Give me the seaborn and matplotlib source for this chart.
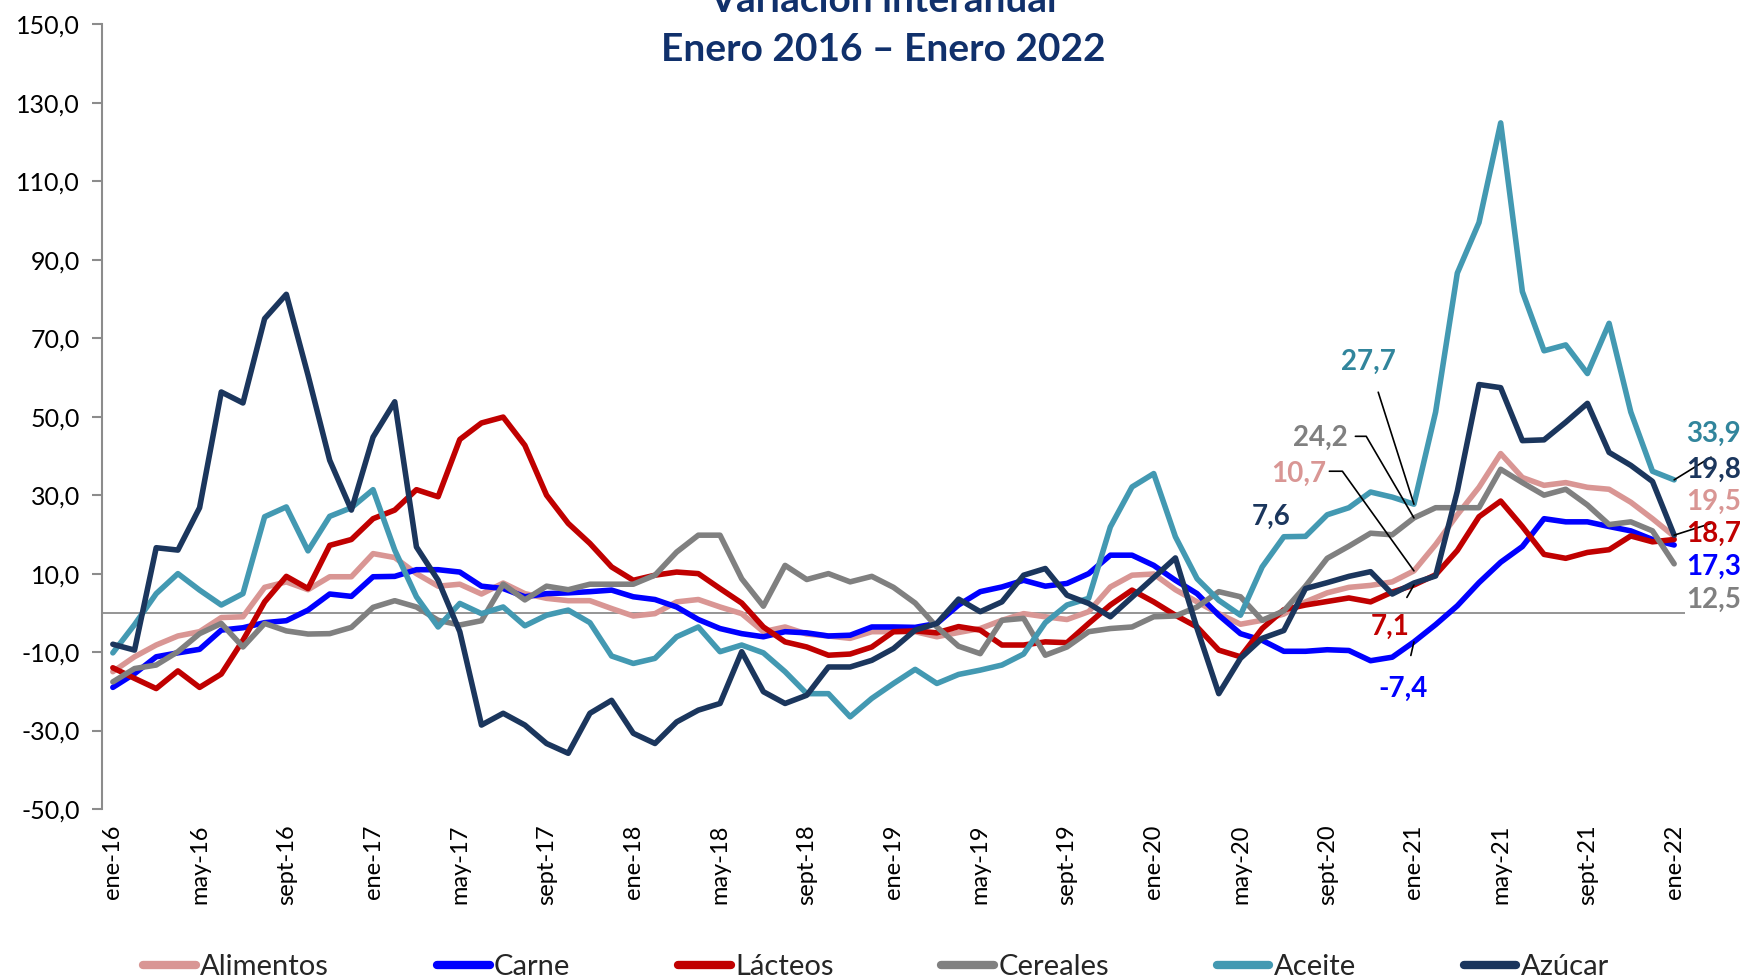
import matplotlib
matplotlib.use('Agg')
import matplotlib.pyplot as plt
import pandas as pd
import seaborn as sns
from matplotlib.ticker import FuncFormatter

# Meses ene-16 .. ene-22 (73 puntos)
abrev = ['ene', 'feb', 'mar', 'abr', 'may', 'jun', 'jul', 'ago', 'sept', 'oct', 'nov', 'dic']
meses = [f'{abrev[i % 12]}-{16 + i // 12}' for i in range(73)]

alimentos = [-15.0, -11.2, -8.2, -5.9, -4.8, -1.2, -1.0, 6.5, 7.9, 5.9,
             9.2, 9.2, 15.1, 14.1, 10.0, 6.8, 7.3, 4.8, 7.6, 4.9,
             3.7, 3.1, 3.1, 1.1, -0.8, -0.2, 2.8, 3.4, 1.5, -0.2,
             -4.8, -3.6, -5.4, -5.9, -6.5, -4.8, -4.8, -4.8, -6.1, -5.0,
             -4.0, -1.9, -0.2, -1.0, -1.7, 0.3, 6.6, 9.6, 9.9, 5.9,
             2.8, -0.2, -2.9, -1.9, -0.3, 2.8, 5.1, 6.5, 7.0, 7.9,
             10.7, 17.4, 25.0, 32.0, 40.6, 34.5, 32.5, 33.2, 32.0, 31.5,
             28.2, 24.0, 19.5]
carne = [-19.0, -15.5, -11.2, -10.2, -9.3, -4.4, -3.8, -2.5, -2.0, 0.7,
         4.8, 4.2, 9.2, 9.3, 11.0, 11.0, 10.4, 6.8, 6.2, 4.1,
         4.9, 5.1, 5.4, 5.8, 4.1, 3.4, 1.5, -1.7, -4.0, -5.3,
         -6.1, -4.8, -5.1, -5.9, -5.7, -3.6, -3.6, -3.7, -2.7, 2.0,
         5.4, 6.6, 8.3, 6.8, 7.5, 10.0, 14.7, 14.7, 12.1, 8.3,
         4.9, -0.6, -5.3, -7.0, -9.8, -9.8, -9.4, -9.6, -12.2, -11.3,
         -7.4, -3.0, 1.8, 7.7, 12.9, 16.9, 24.0, 23.2, 23.2, 22.0,
         20.9, 18.7, 17.3]
lacteos = [-14.0, -16.7, -19.3, -14.8, -19.0, -15.6, -7.0, 2.8, 9.3, 6.2,
           17.2, 18.7, 24.0, 26.2, 31.4, 29.6, 44.2, 48.4, 49.9, 42.7,
           30.0, 22.8, 17.7, 11.7, 8.3, 9.6, 10.4, 10.0, 6.2, 2.5,
           -3.6, -7.4, -8.7, -10.8, -10.5, -8.7, -4.8, -4.6, -5.1, -3.5,
           -4.4, -8.2, -8.2, -7.4, -7.6, -2.7, 2.0, 5.8, 2.8, -0.6,
           -3.6, -9.5, -11.2, -4.0, 0.8, 2.0, 2.9, 3.8, 2.8, 5.3,
           7.1, 9.7, 15.9, 24.5, 28.5, 22.0, 14.9, 13.9, 15.4, 16.1,
           19.6, 18.1, 18.7]
cereales = [-17.6, -14.2, -13.3, -9.9, -5.3, -2.7, -8.7, -2.7, -4.6, -5.4,
            -5.3, -3.7, 1.4, 3.1, 1.5, -1.9, -3.1, -2.0, 7.3, 3.3,
            6.8, 5.9, 7.3, 7.3, 7.3, 9.6, 15.5, 19.8, 19.8, 8.7,
            1.7, 12.1, 8.5, 10.0, 7.9, 9.3, 6.5, 2.5, -3.6, -8.5,
            -10.4, -1.9, -1.4, -10.8, -8.7, -4.8, -4.0, -3.6, -1.0, -0.8,
            1.5, 5.4, 4.1, -1.9, 0.5, 6.8, 13.9, 17.0, 20.3, 19.9,
            24.2, 26.8, 26.8, 26.8, 36.6, 33.2, 30.0, 31.5, 27.5, 22.5,
            23.2, 20.9, 12.5]
aceite = [-10.2, -3.0, 4.9, 10.0, 5.8, 2.0, 4.9, 24.5, 27.0, 15.8,
          24.6, 26.8, 31.4, 16.0, 4.1, -3.6, 2.4, -0.2, 1.5, -3.3,
          -0.6, 0.7, -2.5, -11.0, -12.9, -11.6, -6.1, -3.6, -9.9, -8.2,
          -10.2, -15.0, -20.6, -20.6, -26.5, -21.8, -18.0, -14.4, -18.0, -15.7,
          -14.6, -13.3, -10.5, -2.5, 2.0, 3.7, 21.9, 32.1, 35.5, 19.4,
          8.7, 3.2, -0.6, 11.7, 19.4, 19.5, 25.0, 26.8, 30.8, 29.5,
          27.7, 51.2, 86.6, 99.5, 124.9, 81.9, 66.8, 68.3, 61.0, 73.8,
          51.2, 36.1, 33.9]
azucar = [-8.0, -9.5, 16.6, 16.0, 26.8, 56.3, 53.5, 75.0, 81.2, 60.6,
          38.9, 26.2, 44.8, 53.8, 16.8, 8.3, -4.8, -28.6, -25.6, -28.6,
          -33.3, -35.8, -25.6, -22.3, -30.7, -33.3, -27.8, -24.8, -23.1, -9.9,
          -20.1, -23.1, -21.0, -13.8, -13.8, -12.1, -9.1, -4.4, -2.7, 3.5,
          0.3, 2.8, 9.6, 11.3, 4.5, 2.4, -1.0, 4.0, 9.0, 14.0,
          -4.0, -20.6, -11.6, -6.5, -4.5, 6.2, 7.7, 9.3, 10.5, 4.8,
          7.6, 9.4, 31.0, 58.2, 57.4, 43.9, 44.1, 48.6, 53.4, 40.9,
          37.6, 33.5, 19.8]

series = ['Alimentos', 'Carne', 'Lácteos', 'Cereales', 'Aceite', 'Azúcar']
colores = ['#D99694', '#0000FF', '#C00000', '#808080', '#4399B2', '#1B365D']
etiquetas_color = ['#D99694', '#0000FF', '#C00000', '#808080', '#31859C', '#1B365D']

df = pd.DataFrame({'Alimentos': alimentos, 'Carne': carne, 'Lácteos': lacteos,
                   'Cereales': cereales, 'Aceite': aceite, 'Azúcar': azucar})
df['idx'] = range(len(meses))
largo = df.melt(id_vars='idx', var_name='serie', value_name='valor')

sns.set_theme(style='white')
plt.rcParams['font.family'] = ['Lato', 'DejaVu Sans']

fig = plt.figure(figsize=(17.42, 9.8), dpi=100)
ax = fig.add_axes([102 / 1742, 1 - 809 / 980, 1583 / 1742, 784.6 / 980])

sns.lineplot(data=largo, x='idx', y='valor', hue='serie', hue_order=series,
             palette=dict(zip(series, colores)), linewidth=4, ax=ax)
ax.axhline(0, color='#8C8C8C', lw=1.3, zorder=0)

ax.set_xlim(-0.5, 72.5)
ax.set_ylim(-50, 150)
ax.set_yticks(range(-50, 151, 20))
ax.yaxis.set_major_formatter(FuncFormatter(lambda v, p: f'{v:.1f}'.replace('.', ',')))
ax.set_xticks(range(0, 73, 4))
ax.set_xticklabels(meses[::4], rotation=90)
ax.set_xlabel('')
ax.set_ylabel('')
for s in ['top', 'right', 'bottom']:
    ax.spines[s].set_visible(False)
ax.spines['left'].set_color('#8C8C8C')
ax.spines['left'].set_linewidth(1.5)
ax.tick_params(axis='y', left=True, length=7, width=1.5, color='#8C8C8C',
               labelsize=18, pad=9, labelcolor='black')
ax.tick_params(axis='x', bottom=False, length=0, labelsize=17, pad=11, labelcolor='black')

# Títulos (la primera línea queda cortada por el borde, como en el original)
fig.text(0.507, 0.999, 'Variación interanual', ha='center', va='center',
         fontsize=28, fontweight='bold', color='#10306B')
fig.text(0.507, 0.949, 'Enero 2016 – Enero 2022', ha='center', va='center',
         fontsize=28, fontweight='bold', color='#10306B')

# Etiquetas ene-21
lab = dict(fontsize=20, fontweight='bold', ha='center', va='center')
ax.annotate('27,7', xy=(60, aceite[60]), xytext=(57.9, 64.1), color=etiquetas_color[4],
            arrowprops=dict(arrowstyle='-', color='black', lw=1.2,
                            shrinkA=11, shrinkB=0), **lab)
ax.text(55.7, 44.7, '24,2', color=etiquetas_color[3], **lab)
ax.plot([57.3, 57.8, 60], [45.0, 45.0, cereales[60]], color='black', lw=1.2)
ax.text(54.7, 35.4, '10,7', color=etiquetas_color[0], **lab)
ax.plot([56.1, 56.7, 60], [36.1, 36.1, alimentos[60]], color='black', lw=1.2)
ax.annotate('7,1', xy=(60, lacteos[60]), xytext=(58.9, -3.6), color=etiquetas_color[2],
            arrowprops=dict(arrowstyle='-', color='black', lw=1.2,
                            shrinkA=11, shrinkB=0), **lab)
ax.annotate('-7,4', xy=(60, carne[60]), xytext=(59.5, -19.5), color=etiquetas_color[1],
            arrowprops=dict(arrowstyle='-', color='black', lw=1.2,
                            shrinkA=13, shrinkB=0), **lab)
ax.text(53.4, 24.4, '7,6', color=etiquetas_color[5], **lab)

# Etiquetas ene-22
fin = [(45.5, '33,9', 4), (36.4, '19,8', 5), (28.2, '19,5', 0),
       (20.1, '18,7', 2), (11.7, '17,3', 1), (3.3, '12,5', 3)]
for y, t, k in fin:
    ax.text(73.8, y, t, color=etiquetas_color[k], clip_on=False, **lab)
ax.plot([72, 73.7], [aceite[72], 39.7], color='black', lw=1.2, clip_on=False)
ax.plot([72, 73.7], [azucar[72], 22.8], color='black', lw=1.2, clip_on=False)

handles, labels = ax.get_legend_handles_labels()
ax.get_legend().remove()
leg = fig.legend(handles, labels, loc='center', bbox_to_anchor=(0.503, 0.013), ncol=6,
                 frameon=False, fontsize=21, handlelength=1.8, handletextpad=0.15,
                 columnspacing=3.7)
for h in leg.get_lines():
    h.set_linewidth(6)

fig.savefig('out.png', dpi=100)
